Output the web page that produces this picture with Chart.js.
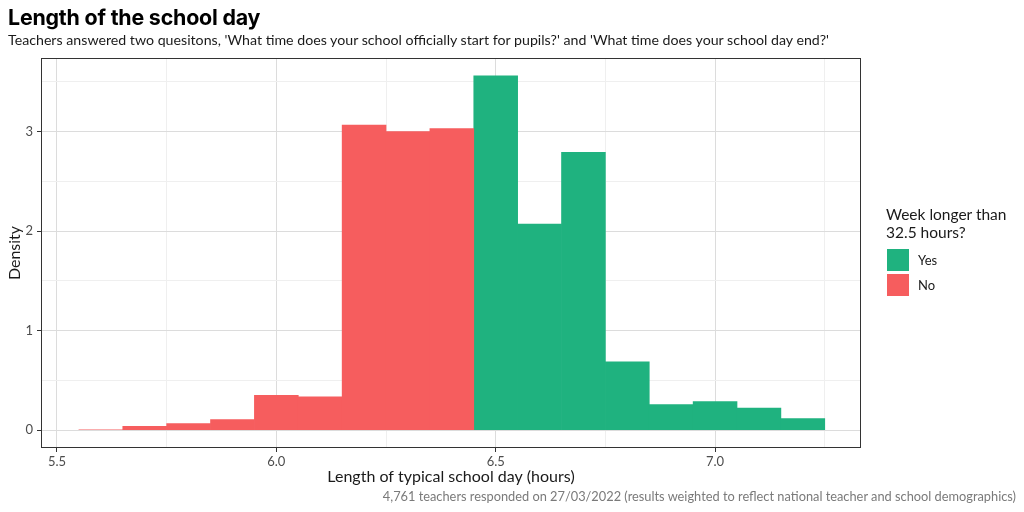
<!DOCTYPE html>
<html><head><meta charset="utf-8">
<script src="https://cdn.jsdelivr.net/npm/chart.js@4/dist/chart.umd.min.js"></script>
<style>
html,body{margin:0;padding:0;background:#fff;}
#wrap{position:relative;width:1024px;height:512px;overflow:hidden;font-family:Lato,"Open Sans",sans-serif;}
#c{position:absolute;left:0;top:0;}
.t{position:absolute;white-space:nowrap;}
#title{left:8px;top:4px;font-weight:700;font-size:21.4px;font-family:Inter,sans-serif;color:#000;letter-spacing:-0.2px;}
#subtitle{left:8px;top:31px;font-size:14.2px;color:#1a1a1a;}
#caption{right:8px;top:488px;font-size:12.8px;color:#7a7a7a;}
#legend{position:absolute;left:886px;top:205px;}
#legend .lt{font-size:15.5px;line-height:18px;color:#1a1a1a;margin-bottom:6px;}
#legend .row{display:flex;align-items:center;height:25px;}
#legend .sw{width:22px;height:22px;margin-left:1px;margin-right:9px;}
#legend .lb{font-size:13px;color:#1a1a1a;}
</style></head>
<body><div id="wrap">
<canvas id="c" width="1024" height="512"></canvas>
<div class="t" id="title">Length of the school day</div>
<div class="t" id="subtitle">Teachers answered two quesitons, 'What time does your school officially start for pupils?' and 'What time does your school day end?'</div>
<div class="t" id="caption">4,761 teachers responded on 27/03/2022 (results weighted to reflect national teacher and school demographics)</div>
<div id="legend"></div>
</div>
<script>
// Bin centres (hours) and densities
const noBins = [5.6, 5.7, 5.8, 5.9, 6.0, 6.1, 6.2, 6.3, 6.4];
const noDensity = [0.005, 0.04, 0.067, 0.107, 0.35, 0.337, 3.065, 3.00, 3.03];
const yesBins = [6.5, 6.6, 6.7, 6.8, 6.9, 7.0, 7.1, 7.2];
const yesDensity = [3.56, 2.07, 2.79, 0.687, 0.257, 0.287, 0.223, 0.117];
const seriesNames = ['Yes', 'No'];
const xMajorTicks = [5.5, 6.0, 6.5, 7.0];
const xMinorTicks = [5.75, 6.25, 6.75, 7.25];
const yMajorTicks = [0, 1, 2, 3];
const yMinorTicks = [0.5, 1.5, 2.5, 3.5];
const legendTitle = ['Week longer than', '32.5 hours?'];

const GREEN = '#1FB27F', RED = '#F65D5E';

const toPts = (xs, ys) => xs.map((x, i) => ({x: x, y: ys[i]}));
const allTicks = (maj, min) => maj.concat(min).sort((a, b) => a - b).map(v => ({value: v}));
const isMajor = (list, v) => list.some(m => Math.abs(m - v) < 1e-9);

const borderPlugin = {
  id: 'panelBorder',
  afterDatasetsDraw(chart) {
    const a = chart.chartArea, ctx = chart.ctx;
    ctx.save();
    ctx.strokeStyle = '#333333';
    ctx.lineWidth = 1;
    ctx.strokeRect(Math.round(a.left) + 0.5, Math.round(a.top) + 0.5, Math.round(a.right - a.left) - 1, Math.round(a.bottom - a.top) - 1);
    ctx.restore();
  }
};

const tickFont = {family: 'Lato, "Open Sans", sans-serif', size: 13};
const chart = new Chart(document.getElementById('c'), {
  type: 'bar',
  data: {
    datasets: [
      {label: seriesNames[1], data: toPts(noBins, noDensity), backgroundColor: RED, borderWidth: 0},
      {label: seriesNames[0], data: toPts(yesBins, yesDensity), backgroundColor: GREEN, borderWidth: 0}
    ]
  },
  options: {
    responsive: false,
    animation: false,
    devicePixelRatio: 1,
    grouped: false,
    barPercentage: 1,
    categoryPercentage: 1,
    layout: {padding: {top: 58, right: 163, left: 0, bottom: 24}},
    plugins: {legend: {display: false}, tooltip: {enabled: false}, title: {display: false}},
    scales: {
      x: {
        type: 'linear', min: 5.4636, max: 7.3326, offset: false,
        afterBuildTicks: s => { s.ticks = allTicks(xMajorTicks, xMinorTicks); },
        afterFit: s => { s.height = 40; },
        ticks: {autoSkip: false, maxRotation: 0, padding: 2, color: '#4D4D4D', font: tickFont,
          callback: v => isMajor(xMajorTicks, v) ? v.toFixed(1) : ''},
        grid: {offset: false, drawTicks: true, tickLength: 4,
          color: c => isMajor(xMajorTicks, c.tick.value) ? '#DCDCDC' : '#EFEFEF',
          tickColor: c => isMajor(xMajorTicks, c.tick.value) ? '#333333' : 'rgba(0,0,0,0)'},
        border: {display: false},
        title: {display: true, text: 'Length of typical school day (hours)', color: '#1a1a1a',
          font: {family: 'Lato, "Open Sans", sans-serif', size: 16}, padding: {top: 0, bottom: 2}}
      },
      y: {
        min: -0.178, max: 3.738,
        afterBuildTicks: s => { s.ticks = allTicks(yMajorTicks, yMinorTicks); },
        afterFit: s => { s.width = 41; },
        ticks: {autoSkip: false, padding: 4, color: '#4D4D4D', font: tickFont,
          callback: v => isMajor(yMajorTicks, v) ? String(v) : ''},
        grid: {drawTicks: true, tickLength: 4,
          color: c => isMajor(yMajorTicks, c.tick.value) ? '#DCDCDC' : '#EFEFEF',
          tickColor: c => isMajor(yMajorTicks, c.tick.value) ? '#333333' : 'rgba(0,0,0,0)'},
        border: {display: false},
        title: {display: true, text: 'Density', color: '#1a1a1a',
          font: {family: 'Lato, "Open Sans", sans-serif', size: 16}, padding: {top: 5, bottom: 0}}
      }
    }
  },
  plugins: [borderPlugin]
});

// HTML legend built from the datasets
const lg = document.getElementById('legend');
let html = '<div class="lt">' + legendTitle.join('<br>') + '</div>';
seriesNames.forEach(name => {
  const ds = chart.data.datasets.find(d => d.label === name);
  html += '<div class="row"><div class="sw" style="background:' + ds.backgroundColor + '"></div><div class="lb">' + name + '</div></div>';
});
lg.innerHTML = html;
</script>
</body></html>
